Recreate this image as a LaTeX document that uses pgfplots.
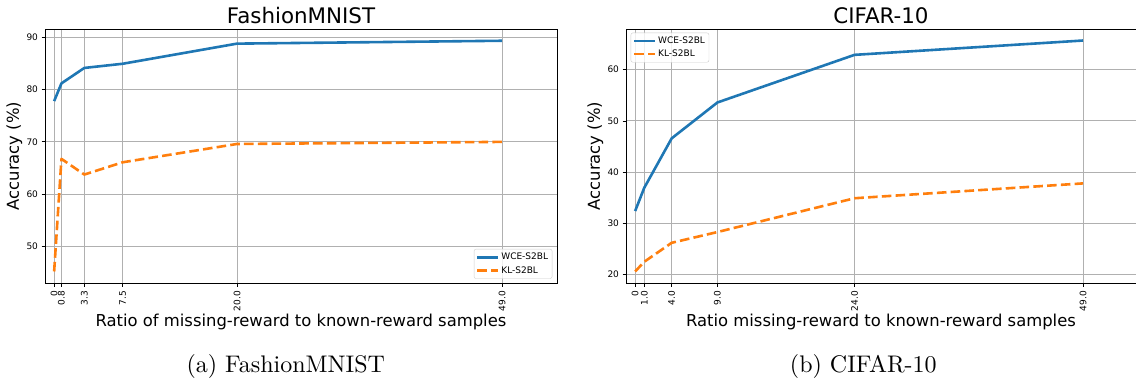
\documentclass[border=0pt]{standalone}
\usepackage{fontspec}
\usepackage{pgfplots}
\pgfplotsset{compat=1.18}
\newfontfamily\dejavu{DejaVu Sans}
\newfontfamily\capfont{lmroman10-regular.otf}
\definecolor{tabblue}{HTML}{1F77B4}
\definecolor{taborange}{HTML}{FF7F0E}
\definecolor{gridgray}{HTML}{B0B0B0}
\definecolor{leggray}{HTML}{CCCCCC}

\pgfplotsset{
 mystyle/.style={
  scale only axis, width=512pt, height=254pt, anchor=south west,
  xmin=-1, xmax=55,
  axis line style={line width=0.8pt},
  grid=major, major grid style={gridgray, line width=0.9pt},
  tick align=outside, xtick pos=bottom, ytick pos=left,
  major tick length=3.5pt, every tick/.style={black, line width=0.8pt},
  tick label style={font=\dejavu\fontsize{9}{10}\selectfont},
  xticklabel style={rotate=90, anchor=east},
  xticklabel shift=1pt,
  every axis title/.style={font=\dejavu\fontsize{21.4}{24}\selectfont, at={(axis description cs:0.5,1.0197)}, anchor=base},
  every axis y label/.style={font=\dejavu\fontsize{16.4}{19}\selectfont, at={(axis description cs:-0.060,0.5)}, rotate=90, anchor=center},
  every axis x label/.style={font=\dejavu\fontsize{16.4}{19}\selectfont, at={(axis description cs:0.5,-0.1713)}, anchor=base},
  legend style={font=\dejavu\fontsize{9}{10}\selectfont, draw=leggray, rounded corners=2pt, fill=white, fill opacity=0.8, text opacity=1, inner sep=2pt, row sep=1pt, cells={anchor=west}},
  legend image code/.code={\draw[#1] (0pt,0pt) -- (20.7pt,0pt);},
  line1/.style={tabblue, line width=2.6pt, line join=round},
  line2/.style={taborange, line width=2.6pt, dash pattern=on 9.6pt off 4.2pt, line join=round},
 }}

\begin{document}
\begin{tikzpicture}
\path[use as bounding box] (0,0) rectangle (1136pt,381pt);

\begin{axis}[mystyle, at={(45pt,98pt)},
  ymin=43.0, ymax=91.6,
  xtick={0,0.8,3.3,7.5,20,49}, xticklabels={0,0.8,3.3,7.5,20.0,49.0},
  ytick={50,60,70,80,90}, yticklabels={50,60,70,80,90},
  title={FashionMNIST},
  xlabel={Ratio of missing-reward to known-reward samples},
  ylabel={Accuracy (\%)},
  legend style={at={(1,0)}, anchor=south east, xshift=-4.7pt, yshift=4.3pt},
]
\addplot[line1] coordinates {(0,77.8) (0.8,81.2) (3.3,84.15) (7.5,84.95) (20,88.8) (49,89.35)};
\addlegendentry{WCE-S2BL}
\addplot[line2] coordinates {(0,45.2) (0.8,66.75) (3.3,63.75) (7.5,66.1) (20,69.6) (49,70.0)};
\addlegendentry{KL-S2BL}
\end{axis}

\begin{axis}[mystyle, at={(626pt,98pt)}, width=510pt, xmax=54.8,
  ymin=18.35, ymax=67.95,
  xtick={0,1,4,9,24,49}, xticklabels={0,1.0,4.0,9.0,24.0,49.0},
  ytick={20,30,40,50,60}, yticklabels={20,30,40,50,60},
  title={CIFAR-10},
  xlabel={Ratio missing-reward to known-reward samples},
  ylabel={Accuracy (\%)},
  legend style={at={(0,1)}, anchor=north west, xshift=4.7pt, yshift=-3.7pt},
]
\addplot[line1] coordinates {(0,32.4) (1,36.95) (4,46.6) (9,53.6) (24,62.9) (49,65.7)};
\addlegendentry{WCE-S2BL}
\addplot[line2] coordinates {(0,20.6) (1,22.5) (4,26.2) (9,28.3) (24,34.9) (49,37.8)};
\addlegendentry{KL-S2BL}
\end{axis}

\node[font=\capfont\fontsize{24}{28}\selectfont, anchor=base] at (285.8pt,8.5pt) {(a)\ FashionMNIST};
\node[font=\capfont\fontsize{24}{28}\selectfont, anchor=base] at (863.3pt,8.5pt) {(b)\ CIFAR-10};
\end{tikzpicture}
\end{document}
